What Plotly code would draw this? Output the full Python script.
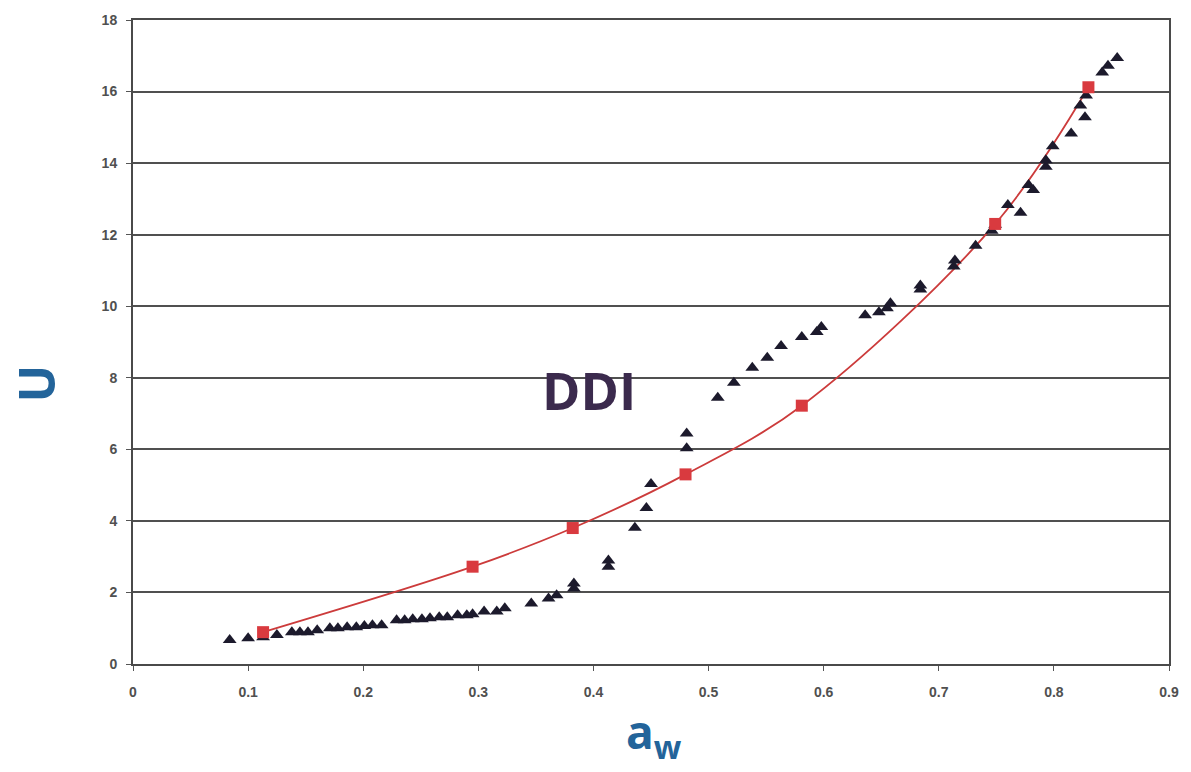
import plotly.graph_objects as go

# Experimental points (triangles)
tri_aw = [0.084, 0.100, 0.113, 0.125, 0.138, 0.145, 0.152, 0.160, 0.171, 0.178,
          0.186, 0.194, 0.201, 0.208, 0.216, 0.229, 0.236, 0.243, 0.251, 0.258,
          0.266, 0.273, 0.282, 0.290, 0.295, 0.305, 0.316, 0.323,
          0.346, 0.361, 0.368, 0.383, 0.383, 0.413, 0.413, 0.436, 0.446, 0.450,
          0.481, 0.481, 0.508, 0.522, 0.538, 0.551, 0.563, 0.581, 0.594, 0.598,
          0.636, 0.648, 0.655, 0.658, 0.684, 0.684, 0.713, 0.714, 0.732, 0.746,
          0.749, 0.760, 0.771, 0.778, 0.782, 0.793, 0.793, 0.799, 0.815, 0.827,
          0.823, 0.828, 0.842, 0.847, 0.855]
tri_u = [0.67, 0.72, 0.75, 0.81, 0.89, 0.89, 0.89, 0.94, 1.00, 1.00,
         1.03, 1.03, 1.06, 1.08, 1.08, 1.22, 1.22, 1.25, 1.25, 1.28,
         1.31, 1.31, 1.36, 1.36, 1.39, 1.47, 1.47, 1.56,
         1.69, 1.83, 1.92, 2.11, 2.25, 2.72, 2.89, 3.81, 4.36, 5.03,
         6.03, 6.44, 7.44, 7.86, 8.28, 8.56, 8.89, 9.14, 9.28, 9.42,
         9.75, 9.83, 9.94, 10.08, 10.47, 10.58, 11.11, 11.28, 11.69, 12.11,
         12.28, 12.83, 12.61, 13.39, 13.25, 13.90, 14.08, 14.47, 14.83, 15.28,
         15.61, 15.89, 16.53, 16.72, 16.94]

# Model points (red squares with line)
model_aw = [0.113, 0.295, 0.382, 0.480, 0.581, 0.749, 0.830]
model_u = [0.89, 2.72, 3.80, 5.30, 7.22, 12.30, 16.12]

x_ticks = [0, 0.1, 0.2, 0.3, 0.4, 0.5, 0.6, 0.7, 0.8, 0.9]
x_ticklabels = ["0", "0.1", "0.2", "0.3", "0.4", "0.5", "0.6", "0.7", "0.8", "0.9"]
y_ticks = [0, 2, 4, 6, 8, 10, 12, 14, 16, 18]

fig = go.Figure()

fig.add_trace(go.Scatter(
    x=model_aw, y=model_u, mode="lines", line=dict(color="#cc3b3b", width=1.8, shape="spline"),
    hoverinfo="skip", showlegend=False))

fig.add_trace(go.Scatter(
    x=tri_aw, y=tri_u, mode="markers",
    marker=dict(symbol="triangle-up", size=12, color="#1c1a2c"),
    showlegend=False))

fig.add_trace(go.Scatter(
    x=model_aw, y=model_u, mode="markers",
    marker=dict(symbol="square", size=12, color="#d93a3f"),
    showlegend=False))

axis_common = dict(
    showline=True, linecolor="#4a4a4a", linewidth=2, mirror=True,
    ticks="outside", ticklen=5, tickcolor="#555555", tickwidth=1,
    tickfont=dict(family="Liberation Sans, Arial, sans-serif", size=14,
                  color="#505050", weight="bold"),
    zeroline=False,
)

fig.update_xaxes(range=[0, 0.9], tickvals=x_ticks, ticktext=x_ticklabels,
                 showgrid=False, **axis_common)
fig.update_xaxes(ticklabelstandoff=9)
fig.update_yaxes(range=[0, 18], tickvals=y_ticks, showgrid=True,
                 gridcolor="#505050", gridwidth=2, **axis_common)
fig.update_yaxes(ticklabelstandoff=6)

fig.add_annotation(x=0.503, y=-0.108, xref="paper", yref="paper",
                   text="<b>a<sub>w</sub></b>", showarrow=False,
                   font=dict(family="Open Sans, sans-serif", size=46, color="#23649a"),
                   xanchor="center", yanchor="middle")
fig.add_annotation(x=-0.094, y=0.435, xref="paper", yref="paper",
                   text="<b>U</b>", showarrow=False, textangle=-90,
                   font=dict(family="Open Sans, sans-serif", size=50, color="#23649a"),
                   xanchor="center", yanchor="middle")
fig.add_annotation(x=0.440, y=0.426, xref="paper", yref="paper",
                   text="<b>DDI</b>", showarrow=False,
                   font=dict(family="Open Sans, sans-serif", size=52, color="#3b2a4d"),
                   xanchor="center", yanchor="middle")

fig.update_layout(
    width=1191, height=772,
    margin=dict(l=133, r=20, t=16, b=108),
    paper_bgcolor="white", plot_bgcolor="white",
    showlegend=False,
)

fig.write_html("out.html")
